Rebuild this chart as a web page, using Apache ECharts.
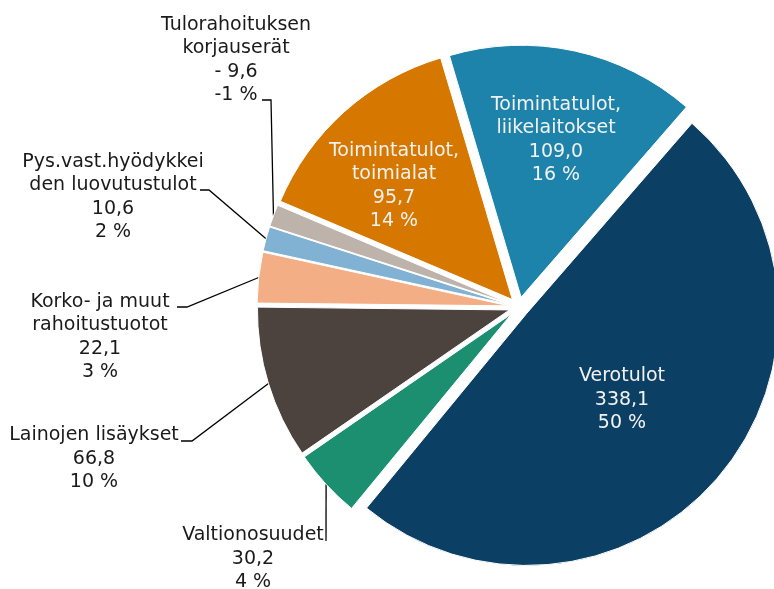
<!DOCTYPE html>
<html>
<head>
<meta charset="utf-8">
<script src="https://cdn.jsdelivr.net/npm/echarts@6/dist/echarts.min.js"></script>
<style>
  html, body { margin: 0; padding: 0; background: #fff; }
  #chart { width: 774px; height: 589px; }
</style>
</head>
<body>
<div id="chart"></div>
<script>
// data (milj. €)
const categories = [
  'Verotulot',
  'Valtionosuudet',
  'Lainojen lisäykset',
  'Korko- ja muut rahoitustuotot',
  'Pys.vast.hyödykkeiden luovutustulot',
  'Tulorahoituksen korjauserät',
  'Toimintatulot, toimialat',
  'Toimintatulot, liikelaitokset'
];
// names as they are wrapped on the chart
const wrappedNames = [
  'Verotulot',
  'Valtionosuudet',
  'Lainojen lisäykset',
  'Korko- ja muut\nrahoitustuotot',
  'Pys.vast.hyödykkei\nden luovutustulot',
  'Tulorahoituksen\nkorjauserät',
  'Toimintatulot,\ntoimialat',
  'Toimintatulot,\nliikelaitokset'
];
const values = [338.1, 30.2, 66.8, 22.1, 10.6, -9.6, 95.7, 109.0];

const colors = ['#0b3f63', '#1b8f70', '#4d433e', '#f4ae86', '#82b2d3', '#bdb3ab', '#d67700', '#1e83ab'];
const insideLabels = ['Verotulot', 'Toimintatulot, toimialat', 'Toimintatulot, liikelaitokset'];

const pieCenter = [519, 307];
const pieRadius = 252;
const explode = 10;

// where the label blocks sit, and where the leader line meets the text
const labelSpots = {
  'Verotulot': { x: 622, y: 400 },
  'Toimintatulot, liikelaitokset': { x: 556, y: 140 },
  'Toimintatulot, toimialat': { x: 394, y: 186 },
  'Tulorahoituksen korjauserät': { x: 236, y: 60, end: [262, 100], knee: [271, 100] },
  'Pys.vast.hyödykkeiden luovutustulot': { x: 113, y: 197, end: [200, 190], knee: [209, 190] },
  'Korko- ja muut rahoitustuotot': { x: 100, y: 337, end: [177, 307], knee: [187, 307] },
  'Lainojen lisäykset': { x: 94, y: 459, end: [181, 441], knee: [192, 441] },
  'Valtionosuudet': { x: 253, y: 559, end: [326, 541], knee: [326, 541] }
};

const fmt = v => (v < 0 ? '- ' : '') + Math.abs(v).toFixed(1).replace('.', ',');

const chartDom = document.getElementById('chart');
const myChart = echarts.init(chartDom, null, { renderer: 'canvas' });

// visible, exploded slices
const sliceData = categories.map((name, i) => ({
  name: name,
  value: Math.abs(values[i]),
  selected: true,
  itemStyle: { color: colors[i] }
}));

// same slices again, see-through, only to carry the labels
const labelData = categories.map((name, i) => {
  const inside = insideLabels.indexOf(name) >= 0;
  return {
    name: name,
    value: Math.abs(values[i]),
    label: {
      position: inside ? 'inside' : 'outside',
      color: inside ? '#f2f2f2' : '#1a1a1a'
    },
    labelLine: { show: !inside }
  };
});

const common = {
  type: 'pie',
  center: pieCenter,
  radius: pieRadius,
  startAngle: 49,
  clockwise: true,
  avoidLabelOverlap: false,
  emphasis: { disabled: true }
};

const option = {
  animation: false,
  series: [
    Object.assign({}, common, {
      selectedMode: 'multiple',
      selectedOffset: explode,
      itemStyle: { borderColor: '#ffffff', borderWidth: 1 },
      label: { show: false },
      labelLine: { show: false },
      data: sliceData
    }),
    Object.assign({}, common, {
      silent: true,
      selectedMode: false,
      itemStyle: { color: 'rgba(0,0,0,0)', borderWidth: 0 },
      label: {
        show: true,
        fontFamily: 'DejaVu Sans',
        fontSize: 19,
        lineHeight: 23.5,
        align: 'center',
        formatter: p => {
          const i = p.dataIndex;
          const pct = Math.round(p.percent) * (values[i] < 0 ? -1 : 1);
          return wrappedNames[i] + '\n' + fmt(values[i]) + '\n' + pct + ' %';
        }
      },
      labelLine: {
        show: true,
        lineStyle: { color: '#000000', width: 1.3 }
      },
      labelLayout: params => {
        const spot = labelSpots[categories[params.dataIndex]];
        const out = {
          x: spot.x,
          y: spot.y,
          align: 'center',
          verticalAlign: 'middle'
        };
        if (spot.end && params.labelLinePoints) {
          // push the anchor out by the explode distance, like the slice itself
          const p0 = params.labelLinePoints[0];
          const k = (pieRadius + explode) / pieRadius;
          const anchor = [
            pieCenter[0] + (p0[0] - pieCenter[0]) * k,
            pieCenter[1] + (p0[1] - pieCenter[1]) * k
          ];
          out.labelLinePoints = [anchor, spot.knee, spot.end];
        }
        return out;
      },
      data: labelData
    })
  ]
};

myChart.setOption(option);
window.addEventListener('resize', () => myChart.resize());
</script>
</body>
</html>
